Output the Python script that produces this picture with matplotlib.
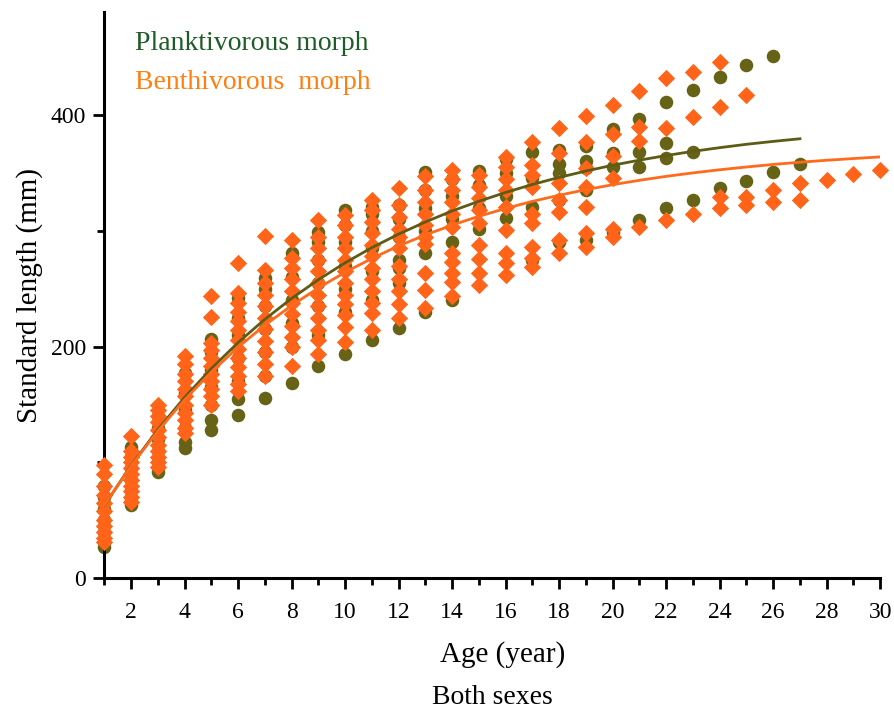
import matplotlib
matplotlib.use("Agg")
import matplotlib.pyplot as plt
from matplotlib.ticker import MultipleLocator

plt.rcParams['font.family'] = ['Liberation Serif', 'DejaVu Serif']

# Standard length (mm) read per age class, index 0 = age 1
plank_sl = [
    [27, 40, 50, 60, 70, 80],
    [63, 68, 75, 85, 95, 105, 113],
    [92, 100, 110, 120, 130, 140],
    [112, 118, 130, 145, 160, 177],
    [128, 137, 150, 165, 180, 195, 207],
    [141, 155, 170, 190, 210, 225, 242],
    [156, 175, 195, 215, 235, 250, 259],
    [169, 200, 220, 240, 260, 281],
    [183, 210, 235, 255, 275, 290, 299],
    [194, 230, 250, 270, 290, 305, 318],
    [206, 240, 265, 285, 300, 315, 321],
    [216, 255, 268, 275, 295, 310, 322],
    [230, 281, 300, 320, 335, 351],
    [240, 290, 310, 330, 345],
    [302, 320, 340, 352],
    [311, 330, 350, 362],
    [275, 321, 346, 368],
    [290, 327, 350, 358, 370],
    [292, 335, 354, 360, 373],
    [299, 355, 367, 388],
    [309, 355, 368, 397],
    [320, 363, 376, 411],
    [327, 368, 422],
    [337, 433],
    [343, 443],
    [351, 451],
    [358],
]

benth_sl = [
    [31, 35, 40, 45, 50, 58, 65, 72, 80, 90, 98],
    [66, 70, 75, 80, 85, 90, 95, 100, 105, 110, 123],
    [96, 100, 105, 110, 115, 122, 128, 135, 140, 145, 150],
    [125, 130, 137, 143, 150, 157, 163, 170, 176, 185, 192],
    [150, 157, 163, 170, 176, 183, 190, 197, 203, 226, 244],
    [162, 168, 175, 182, 190, 198, 206, 214, 222, 230, 238, 246, 272],
    [175, 185, 195, 205, 215, 225, 235, 245, 255, 266, 296],
    [183, 200, 208, 218, 228, 238, 248, 258, 268, 277, 292],
    [194, 206, 214, 225, 235, 245, 255, 265, 275, 285, 295, 309],
    [204, 217, 227, 237, 245, 255, 265, 275, 285, 295, 305, 314],
    [214, 229, 238, 248, 258, 268, 278, 288, 298, 308, 318, 327],
    [225, 237, 248, 258, 270, 285, 295, 302, 312, 322, 337],
    [233, 249, 264, 289, 295, 305, 315, 325, 335, 347],
    [244, 256, 264, 273, 281, 303, 315, 325, 335, 345, 353],
    [253, 264, 276, 288, 307, 318, 328, 338, 348],
    [262, 272, 281, 301, 321, 335, 345, 355, 364],
    [269, 277, 286, 307, 315, 338, 348, 357, 377],
    [281, 292, 316, 327, 341, 367, 389],
    [286, 298, 321, 338, 354, 377, 399],
    [295, 302, 346, 365, 384, 409],
    [303, 378, 390, 421],
    [309, 389, 432],
    [315, 398, 437],
    [320, 329, 407, 446],
    [322, 329, 417],
    [325, 335],
    [327, 341],
    [344],
    [349],
    [353],
]

# Fitted growth curves
curve_age_p = list(range(1, 28))
curve_plank = [62.7, 97.3, 128.3, 156.1, 181.0, 203.5, 223.6, 241.6, 257.8,
               272.4, 285.5, 297.2, 307.7, 317.2, 325.6, 333.2, 340.1, 346.2,
               351.7, 356.7, 361.1, 365.1, 368.7, 371.9, 374.8, 377.3, 379.6]
curve_age_b = list(range(1, 31))
curve_benth = [63.0, 96.9, 127.1, 154.0, 178.0, 199.5, 218.5, 235.5, 250.7,
               264.2, 276.2, 287.0, 296.5, 305.0, 312.6, 319.4, 325.5, 330.8,
               335.6, 339.9, 343.7, 347.1, 350.1, 352.8, 355.2, 357.4, 359.3,
               361.0, 362.5, 363.9]

green_pt = '#666317'
orange_pt = '#ff6418'

fig = plt.figure(figsize=(8.95, 7.12), dpi=100)
ax = fig.add_axes([0.1165, 0.188, 0.867, 0.795])

# flatten per-age lists into x / y
px, py = [], []
for i, vals in enumerate(plank_sl):
    px += [i + 1] * len(vals)
    py += vals
bx, by = [], []
for i, vals in enumerate(benth_sl):
    bx += [i + 1] * len(vals)
    by += vals

ax.scatter(px, py, s=95, marker='o', color=green_pt, linewidths=0, zorder=2, clip_on=False)
ax.scatter(bx, by, s=78, marker='D', color=orange_pt, linewidths=0, zorder=3, clip_on=False)
ax.plot(curve_age_p, curve_plank, color='#5e5c14', linewidth=2.0, zorder=4)
ax.plot(curve_age_b, curve_benth, color='#ff6a1c', linewidth=2.0, zorder=5)

ax.set_xlim(1, 30)
ax.set_ylim(0, 489)
ax.xaxis.set_major_locator(MultipleLocator(2))
ax.xaxis.set_minor_locator(MultipleLocator(1))
ax.yaxis.set_major_locator(MultipleLocator(200))
ax.yaxis.set_minor_locator(MultipleLocator(100))
ax.tick_params(which='major', length=8, width=2, labelsize=17, direction='out')
ax.tick_params(which='minor', length=5, width=2, direction='out')
ax.tick_params(axis='x', pad=9)
ax.tick_params(axis='y', pad=5)

for s in ['top', 'right']:
    ax.spines[s].set_visible(False)
for s in ['left', 'bottom']:
    ax.spines[s].set_linewidth(2.2)

ax.set_ylabel("Standard length (mm)", fontsize=21, labelpad=6)
ax.set_xlabel("Age (year)", fontsize=21, labelpad=16)
ax.xaxis.set_label_coords(0.514, -0.112)

ax.text(0.04, 0.945, "Planktivorous morph", transform=ax.transAxes,
        fontsize=20, color='#1e5c28', ha='left', va='center')
ax.text(0.04, 0.875, "Benthivorous  morph", transform=ax.transAxes,
        fontsize=20, color='#ff7f10', ha='left', va='center')

fig.text(0.55, 0.003, "Both sexes", fontsize=20, ha='center', va='bottom')

fig.savefig("out.png", dpi=100)
